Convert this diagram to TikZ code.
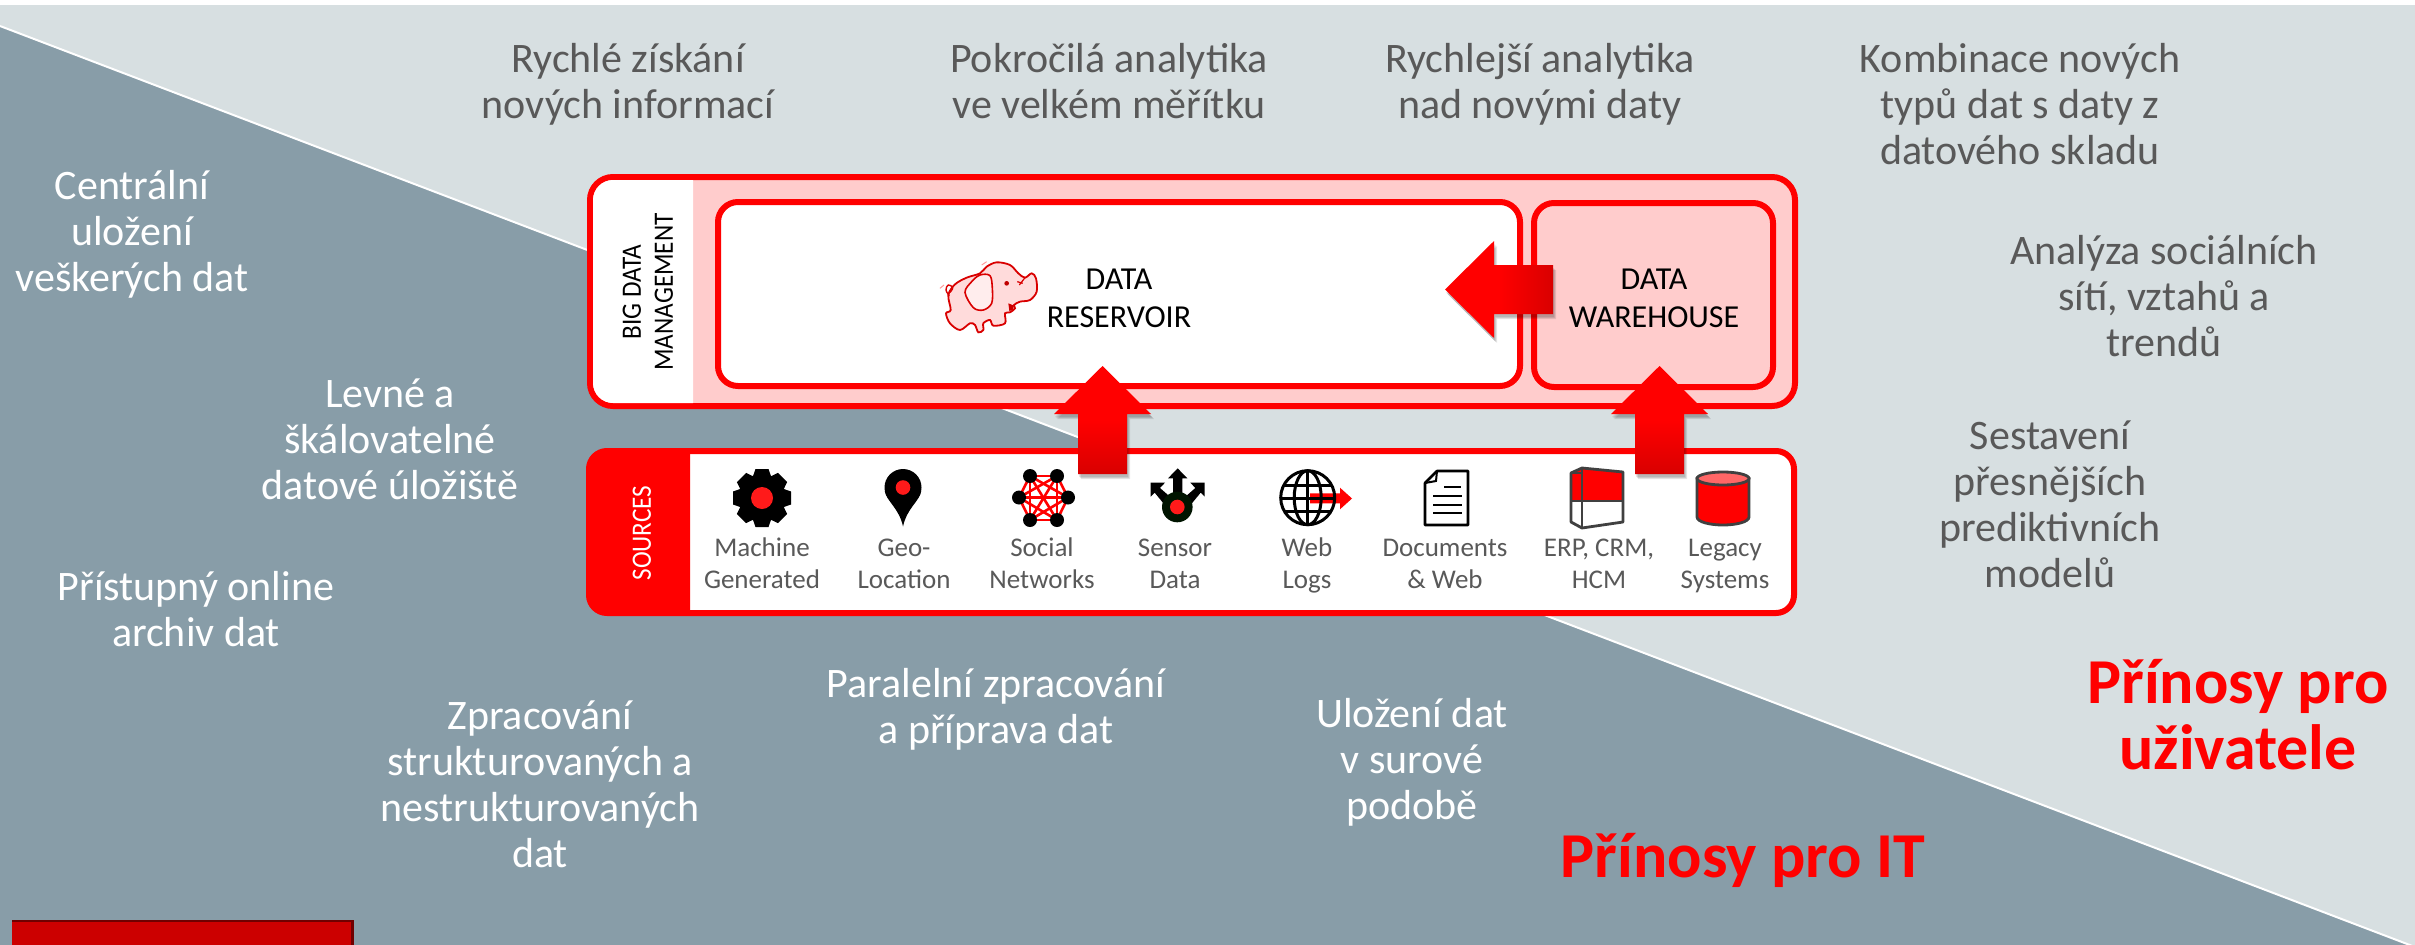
\documentclass[tikz,border=0pt]{standalone}
\usepackage{fontspec}
\setmainfont{Carlito}
\newfontfamily\sidefont[FakeStretch=0.9]{Carlito}
\usetikzlibrary{calc}
\definecolor{bglight}{HTML}{D7DFE1}
\definecolor{bgdark}{HTML}{889DA8}
\definecolor{pinkfill}{HTML}{FFCCCC}
\definecolor{txtgrey}{HTML}{595959}
\definecolor{iconred}{HTML}{FF1A1A}
\definecolor{darkline}{HTML}{404040}
\definecolor{footred}{HTML}{CC0000}
\tikzset{
  frame/.style={draw=red,line width=6pt,inner sep=0pt,outer sep=0pt},
  toptxt/.style={align=center,text=txtgrey,inner sep=0pt,yshift=-4.5pt,font=\fontsize{42}{46}\selectfont},
  lefttxt/.style={align=center,text=white,inner sep=0pt,yshift=-4.5pt,font=\fontsize{42}{46}\selectfont},
  srctxt/.style={align=center,text=txtgrey,inner sep=0pt,yshift=-3pt,font=\fontsize{27}{32}\selectfont},
  blacktxt/.style={align=center,text=black,inner sep=0pt,yshift=-4.5pt,font=\fontsize{32}{38}\selectfont},
  sidetxt/.style={align=center,rotate=90,inner sep=0pt,font=\sidefont\fontsize{28}{32}\selectfont},
  benefit/.style={align=center,text=red,inner sep=0pt,yshift=-9pt,font=\bfseries\fontsize{64}{66}\selectfont},
  arrowshade/.style={fill=black,opacity=.10},
}
\newcommand{\blockup}[1]{(#1) ++(-24.5,0) -- ++(0,-60) -- ++(-24,0) -- ++(48.5,-48) -- ++(48.5,48) -- ++(-24,0) -- ++(0,60) -- cycle}
\newcommand{\blockleft}[1]{(#1) ++(0,-24.5) -- ++(-59,0) -- ++(0,-24) -- ++(-49,48.5) -- ++(49,48.5) -- ++(0,-24) -- ++(59,0) -- cycle}
\begin{document}
\begin{tikzpicture}[x=1pt,y=-1pt]
\useasboundingbox (0,0) rectangle (2415,945);
% background
\fill[white] (0,0) rectangle (2415,945);
\fill[bglight] (0,5) rectangle (2415,945);
\fill[bgdark] (0,26) -- (2415,947) -- (0,947) -- cycle;
\draw[white,line width=2pt] (0,26) -- (2415,947);
% footer block
\fill[black!45!footred] (12,920) rectangle (354,945);
\fill[footred] (12,922) rectangle (351,945);

% top and right texts
\node[toptxt] (t1) at (628,82) {\strut Rychlé získání\\nových informací\strut};
\node[toptxt] (t2) at (1109,82) {\strut Pokročilá analytika\\ve velkém měřítku\strut};
\node[toptxt] (t3) at (1540,82) {\strut Rychlejší analytika\\nad novými daty\strut};
\node[toptxt] (t4) at (2020,105) {\strut Kombinace nových\\typů dat s daty z\\datového skladu\strut};
\node[toptxt] (t5) at (2164,297) {\strut Analýza sociálních\\sítí, vztahů a\\trendů\strut};
\node[toptxt] (t6) at (2050,505) {\strut Sestavení\\přesnějších\\prediktivních\\modelů\strut};
% left and bottom texts
\node[lefttxt] (l1) at (132,232) {\strut Centrální\\uložení\\veškerých dat\strut};
\node[lefttxt] (l2) at (390,440) {\strut Levné a\\škálovatelné\\datové úložiště\strut};
\node[lefttxt] (l3) at (196,610) {\strut Přístupný online\\archiv dat\strut};
\node[lefttxt] (l4) at (540,785) {\strut Zpracování\\strukturovaných a\\nestrukturovaných\\dat\strut};
\node[lefttxt] (l5) at (996,707) {\strut Paralelní zpracování\\a příprava dat\strut};
\node[lefttxt] (l6) at (1412,760) {\strut Uložení dat\\v surové\\podobě\strut};
\node[benefit] (b1) at (1743,855) {\strut Přínosy pro IT};
\node[benefit] (b2) at (2238,714) {\strut Přínosy pro\\uživatele\strut};

% big data management box
\node[frame,fill=pinkfill,rounded corners=23pt,minimum width=1205pt,minimum height=229pt] (bdm) at (1192.5,291.5) {};
\fill[white] (693,180) [rounded corners=20pt] -- (593,180) -- (593,403) [sharp corners] -- (693,403) -- cycle;
\node[sidetxt] (bdmt) at (648,292) {BIG DATA\\MANAGEMENT};
\node[frame,fill=white,rounded corners=20pt,minimum width=802pt,minimum height=184pt] (res) at (1119,294) {};
\node[frame,fill=pinkfill,rounded corners=20pt,minimum width=239pt,minimum height=184pt] (wh) at (1653.5,295) {};
\node[blacktxt] (rest) at (1119,296) {\strut DATA\\RESERVOIR\strut};
\node[blacktxt] (wht) at (1654,296) {\strut DATA\\WAREHOUSE\strut};

% sources box
\node[frame,fill=white,rounded corners=18pt,minimum width=1205pt,minimum height=162pt] (src) at (1191.5,532) {};
\fill[red] (690,451) [rounded corners=18pt] -- (589,451) -- (589,613) [sharp corners] -- (690,613) -- cycle;
\node[sidetxt,text=white] (srct) at (642,533) {SOURCES};
\node[srctxt] (s1) at (762,563) {\strut Machine\\Generated\strut};
\node[srctxt] (s2) at (904,563) {\strut Geo-\\Location\strut};
\node[srctxt] (s3) at (1042,563) {\strut Social\\Networks\strut};
\node[srctxt] (s4) at (1175,563) {\strut Sensor\\Data\strut};
\node[srctxt] (s5) at (1307,563) {\strut Web\\Logs\strut};
\node[srctxt] (s6) at (1445,563) {\strut Documents\\\& Web\strut};
\node[srctxt] (s7) at (1599,563) {\strut ERP, CRM,\\HCM\strut};
\node[srctxt] (s8) at (1725,563) {\strut Legacy\\Systems\strut};

% elephant
\begin{scope}[shift={(930,255)},x=0.3333pt,y=-0.3333pt]
  \draw[red!85!black,line width=1.8pt,fill=red!14] plot[smooth cycle,tension=.55] coordinates {(55,120) (75,88) (110,68) (150,55) (170,35) (200,22) (240,30) (265,55) (285,68) (305,55) (318,70) (320,110) (300,135) (270,140) (252,150) (255,160) (240,172) (225,175) (225,205) (190,212) (180,195) (160,205) (160,225) (145,232) (135,210) (120,205) (90,225) (60,205) (48,175) (62,165)};
  \draw[red!85!black,line width=1.6pt,fill=red!7] plot[smooth cycle,tension=.55] coordinates {(105,112) (125,80) (150,60) (180,62) (187,100) (185,145) (160,165) (130,158)};
  \draw[red!85!black,line width=1.4pt] plot[smooth,tension=.7] coordinates {(58,122) (48,105) (55,90) (68,98) (60,112)};
  \draw[red!40,line width=1pt] (30,100) -- (42,90) (155,30) -- (170,20);
  \fill[red!75!black] (230,85) circle[radius=7];
  \draw[red!85!black,line width=1.2pt] (268,90) -- (285,68) (262,80) -- (278,85);
  \fill[red!80!black] (235,145) -- (252,152) -- (248,165) -- (238,168) -- cycle;
\end{scope}

% gear
\coordinate (gear) at (762,498);
\fill[black] (gear) circle[radius=22];
\foreach \a in {0,45,...,315}{
  \begin{scope}[shift={(gear)},rotate=\a]
    \fill[black] (-6.5,-29) -- (6.5,-29) -- (10,-19) -- (-10,-19) -- cycle;
  \end{scope}
}
\fill[iconred] (gear) circle[radius=11];
% pin
\coordinate (pin) at (903,487.5);
\fill[black] (pin) circle[radius=18.5];
\fill[black] (884.8,491) .. controls (887,502) and (899,508) .. (903,526.5) .. controls (907,508) and (919,502) .. (921.2,491) -- cycle;
\fill[iconred] (pin) circle[radius=7.3];
% social network
\coordinate (n1) at (1030,476); \coordinate (n2) at (1057,476);
\coordinate (n3) at (1068,497.5); \coordinate (n4) at (1057,520);
\coordinate (n5) at (1030,520); \coordinate (n6) at (1019,497.5);
\foreach \p/\q in {n1/n2,n1/n3,n1/n4,n1/n5,n1/n6,n2/n3,n2/n4,n2/n5,n2/n6,n3/n4,n3/n5,n3/n6,n4/n5,n4/n6,n5/n6}
  \draw[red,line width=2.6pt] (\p) -- (\q);
\foreach \p in {n1,n2,n3,n4,n5,n6} \fill[black] (\p) circle[radius=7];
% sensor
\begin{scope}[shift={(1140,460)},x=0.3333pt,y=-0.3333pt]
  \fill[black] (113,25) -- (142,55) -- (127,55) -- (127,110) -- (99,110) -- (99,55) -- (84,55) -- cycle;
  \fill[black] (32,68) -- (75,68) -- (60,84) -- (92,112) -- (72,132) -- (44,98) -- (32,110) -- cycle;
  \fill[black] (194,68) -- (151,68) -- (166,84) -- (134,112) -- (154,132) -- (182,98) -- (194,110) -- cycle;
\end{scope}
\coordinate (sens) at (1177.3,507);
\fill[black!92!green] (sens) circle[radius=15.3];
\fill[iconred] (sens) circle[radius=7.3];
% web logs
\coordinate (glob) at (1307.7,497.7);
\fill[red] (1310,493.3) -- (1340,493.3) -- (1340,487.7) -- (1352,498.5) -- (1340,509.3) -- (1340,503.3) -- (1310,503.3) -- cycle;
\begin{scope}[line width=3pt,black]
  \draw (glob) circle[radius=27];
  \draw (glob) ellipse[x radius=13.5,y radius=27];
  \draw ($(glob)+(0,-27)$) -- ($(glob)+(0,27)$);
  \draw ($(glob)+(-24,-12.5)$) -- ($(glob)+(24,-12.5)$);
  \draw ($(glob)+(-27,1)$) -- ($(glob)+(27,1)$);
  \draw ($(glob)+(-24,13.5)$) -- ($(glob)+(24,13.5)$);
\end{scope}
% document
\draw[black,line width=2.6pt,line join=round] (1437,471) -- (1468,471) -- (1468,525) -- (1425,525) -- (1425,483) -- cycle;
\draw[black,line width=2pt] (1437,471) -- (1436,481) -- (1425,483);
\draw[black,line width=2.4pt] (1444,487) -- (1461,487) (1433,496) -- (1462,496) (1433,505) -- (1462,505) (1433,513) -- (1462,513);
% ERP
\fill[red] (1571,473) -- (1582,468) -- (1623,472) -- (1623,501) -- (1571,501) -- cycle;
\draw[darkline,line width=2.8pt,line join=round] (1571,473) -- (1582,468) -- (1623,472) -- (1623,522) -- (1582,528) -- (1571,522) -- cycle;
\draw[darkline,line width=2.8pt] (1582,468) -- (1582,528) (1571,501) -- (1623,501) (1571,473) -- (1582,473);
% cylinder
\draw[darkline,line width=2.8pt,fill=red] (1697,478.5) -- (1697,517) .. controls (1697,522) and (1710,525) .. (1723,525) .. controls (1736,525) and (1749,522) .. (1749,517) -- (1749,478.5) -- cycle;
\draw[darkline,line width=2.8pt,fill=red!60!white] (1723,478.5) ellipse[x radius=26,y radius=6.5];

% block arrows
\coordinate (a1) at (1102.5,474);
\coordinate (a2) at (1659.5,474);
\coordinate (a3) at (1553,289.5);
\foreach \s/\t in {1/3,2/4,3/5}{
  \fill[arrowshade] \blockup{$(a1)+(\s,\t)$};
  \fill[arrowshade] \blockup{$(a2)+(\s,\t)$};
  \fill[arrowshade] \blockleft{$(a3)+(\s,\t)$};
}
\shade[top color=red,bottom color=red!85!black,middle color=red] \blockup{a1};
\shade[top color=red,bottom color=red!85!black,middle color=red] \blockup{a2};
\shade[left color=red,right color=red!85!black,middle color=red] \blockleft{a3};
\end{tikzpicture}
\end{document}
